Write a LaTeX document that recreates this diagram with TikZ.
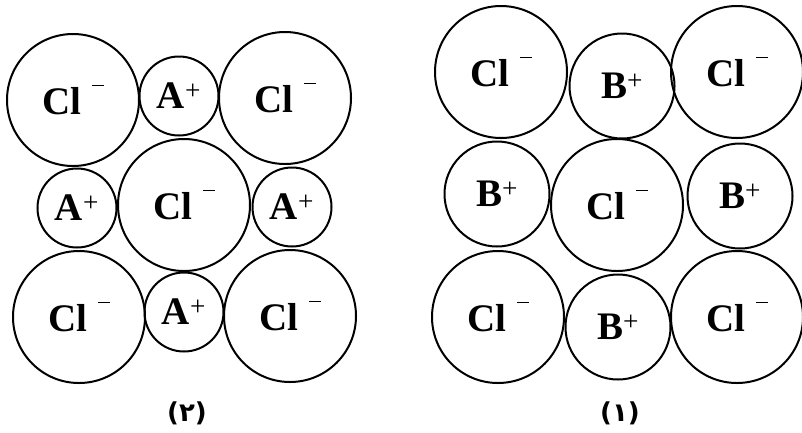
\documentclass[tikz,border=0pt]{standalone}
\usepackage{fontspec}
\setmainfont{Liberation Serif}
\newfontfamily\digitfont{DejaVu Sans}
\usetikzlibrary{positioning}

\newcommand{\clion}{Cl\hspace{11pt}\raisebox{29pt}{\rule{12pt}{1.3pt}}}
\newcommand{\aion}[1]{#1\textsuperscript{\mdseries +}}

\begin{document}
\begin{tikzpicture}[x=1pt, y=-1pt,
  ion/.style={draw, circle, line width=2pt, inner sep=0pt, font=\fontsize{39}{44}\selectfont\bfseries},
  anion/.style={ion, minimum size=132pt},
  smallion/.style={ion, minimum size=79pt},
  midion/.style={ion, minimum size=105pt},
  caption/.style={font=\digitfont\bfseries\fontsize{26}{28}\selectfont}]
\useasboundingbox (0,0) rectangle (802,432);

% (2): small A+ ions
\node[anion] (lTL) at (73,100) {\clion};
\node[smallion] (lT) at (179,96) {\aion{A}};
\node[anion] (lTR) at (285,98) {\clion};
\node[smallion] (lL) at (77,208) {\aion{A}};
\node[anion] (lM) at (184,205) {\clion};
\node[smallion] (lR) at (292,207) {\aion{A}};
\node[anion] (lBL) at (79,317) {\clion};
\node[smallion] (lB) at (184,312) {\aion{A}};
\node[anion] (lBR) at (290,316) {\clion};
\node[caption] (lab2) at (187,413) {(۲)};

% (1): larger B+ ions
\node[anion] (rTL) at (501,72) {\clion};
\node[midion] (rT) at (622,86) {\aion{B}};
\node[anion] (rTR) at (737,72) {\clion};
\node[midion] (rL) at (497,194) {\aion{B}};
\node[anion] (rM) at (617,205) {\clion};
\node[midion] (rR) at (740,196) {\aion{B}};
\node[anion] (rBL) at (498,317) {\clion};
\node[midion] (rB) at (618,327) {\aion{B}};
\node[anion] (rBR) at (737,317) {\clion};
\node[caption] (lab1) at (620,413) {(۱)};
\end{tikzpicture}
\end{document}
